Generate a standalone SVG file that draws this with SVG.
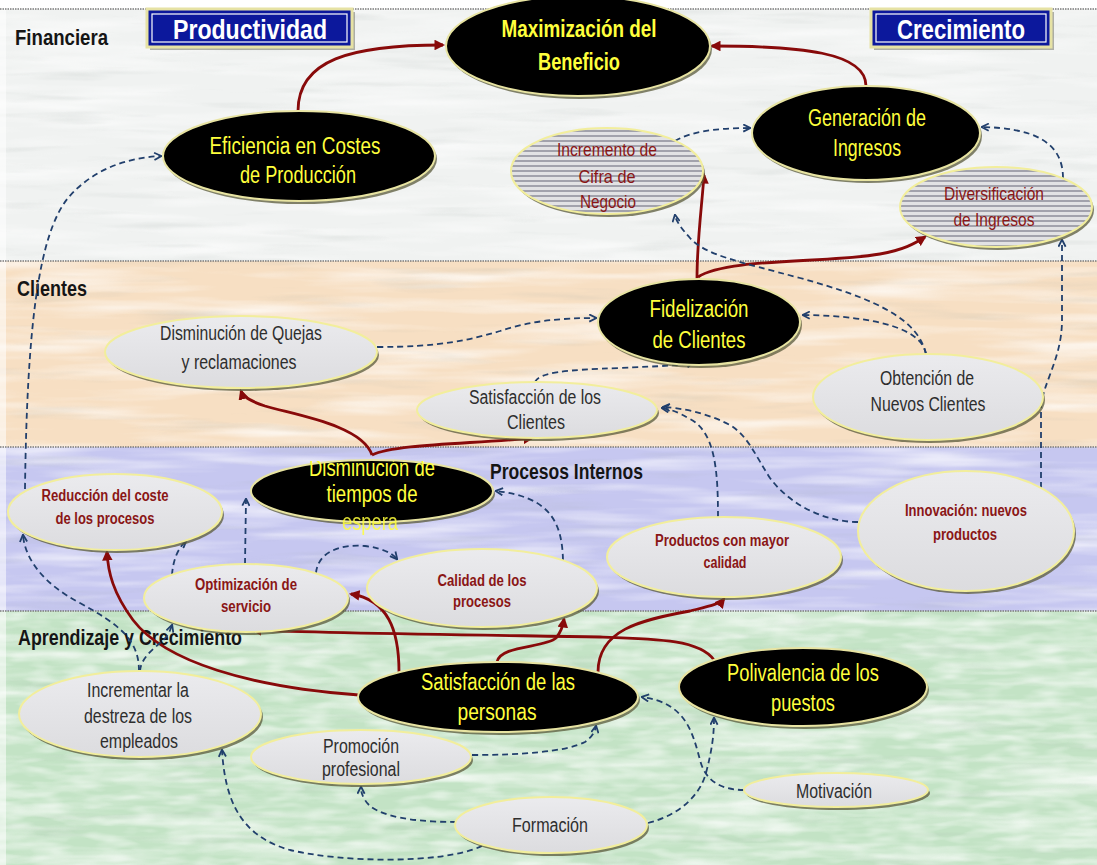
<svg xmlns="http://www.w3.org/2000/svg" width="1097" height="865" viewBox="0 0 1097 865">
  <style>
    .lbl { font-family: "Liberation Sans Narrow", "Liberation Sans", Arial, sans-serif; font-weight: bold; font-size: 22px; fill: #151515; }
    .box { fill: #0c189c; stroke: #e6e2a4; stroke-width: 3; }
    .boxIn { fill: none; stroke: #ffffff; stroke-width: 1.2; }
    .boxTxt { font-family: "Liberation Sans Narrow", "Liberation Sans", Arial, sans-serif; font-weight: bold; font-size: 27px; fill: #ffffff; text-anchor: middle; }
    .shadow { fill: #5a5a3a; opacity: 0.75; }
    .dark { fill: #000000; stroke: #e8e4a2; stroke-width: 2; }
    .light { fill: url(#lightFill); stroke: #f2ee9c; stroke-width: 2; }
    .hatch { fill: url(#stripes); stroke: #f2ee9c; stroke-width: 2; }
    .t { font-family: "Liberation Sans Narrow", "Liberation Sans", Arial, sans-serif; text-anchor: middle; }
    .yel { fill: #ffff3c; font-size: 23px; }
    .yelB { fill: #ffff3c; font-size: 23px; font-weight: bold; }
    .gry { fill: #2e2e2e; font-size: 20px; }
    .red { fill: #8a1616; font-size: 19px; }
    .redB { fill: #8a1616; font-size: 16px; font-weight: bold; }
    .rline { fill: none; stroke: #880a0a; stroke-width: 2.8; marker-end: url(#redHead); }
    .bline { fill: none; stroke: #213f6c; stroke-width: 1.8; stroke-dasharray: 6 4; marker-end: url(#blueHead); }
    .sep { stroke: #7a7a7a; stroke-width: 1.5; stroke-dasharray: 1.5 1; }
  </style>
  <defs>
    <marker id="redHead" viewBox="0 0 10 10" refX="8" refY="5" markerWidth="3.8" markerHeight="3.8" orient="auto">
      <path d="M0,0 L10,5 L0,10 z" fill="#880a0a"/>
    </marker>
    <marker id="blueHead" viewBox="0 0 10 10" refX="8.5" refY="5" markerWidth="5" markerHeight="5" orient="auto">
      <path d="M1,1 L9,5 L1,9" fill="none" stroke="#213f6c" stroke-width="2"/>
    </marker>
    <pattern id="stripes" width="8" height="5" patternUnits="userSpaceOnUse">
      <rect width="8" height="5" fill="#e2e2e4"/>
      <rect y="0" width="8" height="2" fill="#a2a2ac"/>
    </pattern>
    <linearGradient id="lightFill" x1="0" y1="0" x2="0" y2="1">
      <stop offset="0" stop-color="#ebebee"/>
      <stop offset="1" stop-color="#dcdcdf"/>
    </linearGradient>
    <filter id="whiteStreaks" x="0" y="0" width="1" height="1">
      <feTurbulence type="fractalNoise" baseFrequency="0.006 0.07" numOctaves="3" seed="7"/>
      <feColorMatrix type="matrix" values="0 0 0 0 1  0 0 0 0 1  0 0 0 0 1  2.2 0 0 0 -0.95"/>
    </filter>
    <filter id="darkStreaks" x="0" y="0" width="1" height="1">
      <feTurbulence type="fractalNoise" baseFrequency="0.008 0.09" numOctaves="3" seed="21"/>
      <feColorMatrix type="matrix" values="0 0 0 0 0.35  0 0 0 0 0.4  0 0 0 0 0.38  -2.2 0 0 0 0.95"/>
    </filter>
    <filter id="mottle" x="0" y="0" width="1" height="1">
      <feTurbulence type="fractalNoise" baseFrequency="0.03 0.12" numOctaves="2" seed="4"/>
      <feColorMatrix type="matrix" values="0 0 0 0 1  0 0 0 0 1  0 0 0 0 1  2.4 0 0 0 -1.0"/>
    </filter>
    <clipPath id="clipTop">
      <rect x="240" y="461" width="270" height="30"/>
    </clipPath>
  </defs>

  <!-- perspective bands -->
  <g id="bands">
    <rect x="0" y="0" width="1097" height="865" fill="#ffffff"/>
    <rect x="0" y="9" width="1097" height="252" fill="#f0f2f1"/>
    <rect x="0" y="261" width="1097" height="186" fill="#f7dfc3"/>
    <rect x="0" y="447" width="1097" height="164" fill="#c6c7f0"/>
    <rect x="0" y="611" width="1097" height="254" fill="#c3e3c5"/>
    <rect x="0" y="9" width="1097" height="856" filter="url(#whiteStreaks)" opacity="0.7"/>
    <rect x="0" y="9" width="1097" height="856" filter="url(#darkStreaks)" opacity="0.22"/>
    <rect x="0" y="611" width="1097" height="254" filter="url(#mottle)" opacity="0.5"/>
    <rect x="0" y="9" width="6" height="856" fill="#ffffff" opacity="0.55"/>
    <line class="sep" x1="0" y1="9" x2="1097" y2="9"/>
    <line class="sep" x1="0" y1="261" x2="1097" y2="261"/>
    <line class="sep" x1="0" y1="447" x2="1097" y2="447"/>
    <line class="sep" x1="0" y1="611" x2="1097" y2="611"/>
    <text class="lbl" x="15" y="45" textLength="93" lengthAdjust="spacingAndGlyphs">Financiera</text>
    <text class="lbl" x="17" y="296" textLength="70" lengthAdjust="spacingAndGlyphs">Clientes</text>
    <text class="lbl" x="490" y="479" textLength="153" lengthAdjust="spacingAndGlyphs">Procesos Internos</text>
    <text class="lbl" x="18" y="645" textLength="224" lengthAdjust="spacingAndGlyphs">Aprendizaje y Crecimiento</text>
  </g>

  <!-- connectors -->
  <g id="connectors">
    <path class="rline" d="M298,111 C298,60 350,45 443,45"/>
    <path class="rline" d="M866,86 C866,52 800,46 712,46"/>
    <path class="rline" d="M697,279 C697,240 702,205 704,175"/>
    <path class="rline" d="M698,277 C725,258 830,263 880,254 C903,250 914,244 925,237"/>
    <path class="rline" d="M372,455 C362,425 295,415 265,406 C250,401 243,397 241,391"/>
    <path class="rline" d="M372,455 C395,444 470,444 532,438"/>
    <path class="rline" d="M359,695 C250,687 165,662 133,620 C113,593 108,572 107,552"/>
    <path class="rline" d="M399,672 C399,630 388,600 351,594"/>
    <path class="rline" d="M497,662 C500,645 545,648 556,638 C561,632 563,626 564,619"/>
    <path class="rline" d="M598,672 C598,630 640,620 690,611 C710,606 720,604 724,599"/>
    <path class="rline" d="M714,660 C700,640 660,639 600,637 C480,635 320,633 253,630"/>

    <path class="bline" d="M25,489 C27,330 38,235 68,198 C92,170 125,158 161,156"/>
    <path class="bline" d="M675,141 C690,132 715,128 750,128"/>
    <path class="bline" d="M1063,178 C1063,140 1030,128 982,127"/>
    <path class="bline" d="M1041,488 L1041,410 C1041,385 1062,360 1062,320 L1062,240"/>
    <path class="bline" d="M926,354 C922,330 880,316 803,315"/>
    <path class="bline" d="M926,354 C918,320 880,300 800,278 C740,262 705,255 690,238 C681,228 676,221 675,215"/>
    <path class="bline" d="M377,347 C440,347 470,340 500,331 C530,321 560,318 596,318"/>
    <path class="bline" d="M535,382 C540,372 565,370 620,368 C660,366 680,366 693,362"/>
    <path class="bline" d="M718,517 C718,470 715,432 690,419 C678,412 670,409 662,408"/>
    <path class="bline" d="M858,522 C825,522 790,505 770,478 C755,455 748,436 730,425 C705,412 680,408 663,407"/>
    <path class="bline" d="M563,560 C562,522 550,497 496,491"/>
    <path class="bline" d="M316,573 C318,552 340,544 365,546 C382,548 392,553 397,559"/>
    <path class="bline" d="M245,564 L246,499"/>
    <path class="bline" d="M172,575 C173,560 178,548 186,541"/>
    <path class="bline" d="M139,671 C139,640 120,625 80,603 C45,585 25,560 23,535"/>
    <path class="bline" d="M140,671 C141,655 160,645 167,636 C170,631 171,628 172,625"/>
    <path class="bline" d="M456,822 C420,822 375,818 365,800 C362,795 361,792 361,787"/>
    <path class="bline" d="M482,846 C440,865 340,862 290,850 C240,836 225,800 222,750"/>
    <path class="bline" d="M648,823 C680,815 700,795 706,773 C712,750 714,735 714,718"/>
    <path class="bline" d="M472,755 C520,755 565,752 585,742 C592,737 595,732 596,726"/>
    <path class="bline" d="M744,790 C720,790 705,780 700,760 C692,730 685,703 642,697"/>
  </g>

  <!-- financial perspective -->
  <g id="productividad">
    <rect x="150" y="12" width="205" height="38" fill="#6a6a5a" opacity="0.5"/>
    <rect class="box" x="147" y="9" width="205" height="38"/>
    <rect class="boxIn" x="152" y="14" width="195" height="28"/>
    <text class="boxTxt" x="250" y="39" textLength="154" lengthAdjust="spacingAndGlyphs">Productividad</text>
  </g>
  <g id="crecimiento">
    <rect x="874" y="12" width="180" height="38" fill="#6a6a5a" opacity="0.5"/>
    <rect class="box" x="871" y="9" width="180" height="38"/>
    <rect class="boxIn" x="876" y="14" width="170" height="28"/>
    <text class="boxTxt" x="961" y="39" textLength="128" lengthAdjust="spacingAndGlyphs">Crecimiento</text>
  </g>
  <g id="maximizacion">
    <ellipse class="shadow" cx="580" cy="49" rx="132" ry="50"/>
    <ellipse class="dark" cx="578" cy="46" rx="132" ry="50"/>
    <text class="t yelB" x="579" y="37" textLength="155" lengthAdjust="spacingAndGlyphs">Maximización del</text>
    <text class="t yelB" x="579" y="70" textLength="82" lengthAdjust="spacingAndGlyphs">Beneficio</text>
  </g>
  <g id="eficiencia">
    <ellipse class="shadow" cx="301" cy="159" rx="136" ry="45"/>
    <ellipse class="dark" cx="299" cy="156" rx="136" ry="45"/>
    <text class="t yel" x="295" y="154" textLength="171" lengthAdjust="spacingAndGlyphs">Eficiencia en Costes</text>
    <text class="t yel" x="298" y="183" textLength="116" lengthAdjust="spacingAndGlyphs">de Producción</text>
  </g>
  <g id="generacion">
    <ellipse class="shadow" cx="868" cy="136" rx="114" ry="47"/>
    <ellipse class="dark" cx="866" cy="133" rx="114" ry="47"/>
    <text class="t yel" x="867" y="126" textLength="118" lengthAdjust="spacingAndGlyphs">Generación de</text>
    <text class="t yel" x="867" y="156" textLength="68" lengthAdjust="spacingAndGlyphs">Ingresos</text>
  </g>
  <g id="incremento">
    <ellipse class="shadow" cx="609" cy="174" rx="96" ry="43"/>
    <ellipse class="hatch" cx="607" cy="171" rx="96" ry="43"/>
    <text class="t red" x="607" y="156" textLength="100" lengthAdjust="spacingAndGlyphs">Incremento de</text>
    <text class="t red" x="607" y="183" textLength="57" lengthAdjust="spacingAndGlyphs">Cifra de</text>
    <text class="t red" x="608" y="208" textLength="56" lengthAdjust="spacingAndGlyphs">Negocio</text>
  </g>
  <g id="diversificacion">
    <ellipse class="shadow" cx="998" cy="210" rx="96" ry="40"/>
    <ellipse class="hatch" cx="996" cy="207" rx="96" ry="40"/>
    <text class="t red" x="994" y="200" textLength="100" lengthAdjust="spacingAndGlyphs">Diversificación</text>
    <text class="t red" x="994" y="226" textLength="81" lengthAdjust="spacingAndGlyphs">de Ingresos</text>
  </g>

  <!-- customer perspective -->
  <g id="quejas">
    <ellipse class="shadow" cx="243" cy="355" rx="136" ry="36"/>
    <ellipse class="light" cx="241" cy="352" rx="136" ry="36"/>
    <text class="t gry" x="241" y="340" textLength="162" lengthAdjust="spacingAndGlyphs">Disminución de Quejas</text>
    <text class="t gry" x="239" y="369" textLength="115" lengthAdjust="spacingAndGlyphs">y reclamaciones</text>
  </g>
  <g id="fidelizacion">
    <ellipse class="shadow" cx="701" cy="325" rx="101" ry="43"/>
    <ellipse class="dark" cx="699" cy="322" rx="101" ry="43"/>
    <text class="t yel" x="699" y="317" textLength="99" lengthAdjust="spacingAndGlyphs">Fidelización</text>
    <text class="t yel" x="699" y="348" textLength="93" lengthAdjust="spacingAndGlyphs">de Clientes</text>
  </g>
  <g id="satisfaccion-clientes">
    <ellipse class="shadow" cx="539" cy="413" rx="120" ry="28"/>
    <ellipse class="light" cx="537" cy="410" rx="120" ry="28"/>
    <text class="t gry" x="535" y="404" textLength="132" lengthAdjust="spacingAndGlyphs">Satisfacción de los</text>
    <text class="t gry" x="536" y="429" textLength="58" lengthAdjust="spacingAndGlyphs">Clientes</text>
  </g>
  <g id="obtencion">
    <ellipse class="shadow" cx="930" cy="400" rx="115" ry="43"/>
    <ellipse class="light" cx="928" cy="397" rx="115" ry="43"/>
    <text class="t gry" x="927" y="385" textLength="94" lengthAdjust="spacingAndGlyphs">Obtención de</text>
    <text class="t gry" x="928" y="411" textLength="115" lengthAdjust="spacingAndGlyphs">Nuevos Clientes</text>
  </g>

  <!-- internal process perspective -->
  <g id="tiempos">
    <ellipse class="shadow" cx="374" cy="494" rx="121" ry="31"/>
    <ellipse class="dark" cx="372" cy="491" rx="121" ry="31"/>
    <text class="t yel" x="372" y="476" textLength="126" lengthAdjust="spacingAndGlyphs" clip-path="url(#clipTop)">Disminución de</text>
    <text class="t yel" x="372" y="502" textLength="91" lengthAdjust="spacingAndGlyphs">tiempos de</text>
    <text class="t yel" x="370" y="530" textLength="56" lengthAdjust="spacingAndGlyphs" opacity="0.85">espera</text>
  </g>
  <g id="reduccion">
    <ellipse class="shadow" cx="117" cy="515" rx="107" ry="38"/>
    <ellipse class="light" cx="115" cy="512" rx="107" ry="38"/>
    <text class="t redB" x="105" y="501" textLength="127" lengthAdjust="spacingAndGlyphs">Reducción del coste</text>
    <text class="t redB" x="105" y="524" textLength="99" lengthAdjust="spacingAndGlyphs">de los procesos</text>
  </g>
  <g id="optimizacion">
    <ellipse class="shadow" cx="248" cy="601" rx="102" ry="34"/>
    <ellipse class="light" cx="246" cy="598" rx="102" ry="34"/>
    <text class="t redB" x="246" y="590" textLength="102" lengthAdjust="spacingAndGlyphs">Optimización de</text>
    <text class="t redB" x="246" y="612" textLength="50" lengthAdjust="spacingAndGlyphs">servicio</text>
  </g>
  <g id="calidad">
    <ellipse class="shadow" cx="484" cy="591" rx="115" ry="39"/>
    <ellipse class="light" cx="482" cy="588" rx="115" ry="39"/>
    <text class="t redB" x="482" y="586" textLength="89" lengthAdjust="spacingAndGlyphs">Calidad de los</text>
    <text class="t redB" x="482" y="607" textLength="58" lengthAdjust="spacingAndGlyphs">procesos</text>
  </g>
  <g id="productos">
    <ellipse class="shadow" cx="726" cy="560" rx="117" ry="40"/>
    <ellipse class="light" cx="724" cy="557" rx="117" ry="40"/>
    <text class="t redB" x="722" y="546" textLength="134" lengthAdjust="spacingAndGlyphs">Productos con mayor</text>
    <text class="t redB" x="725" y="568" textLength="43" lengthAdjust="spacingAndGlyphs">calidad</text>
  </g>
  <g id="innovacion">
    <ellipse class="shadow" cx="968" cy="534" rx="108" ry="60"/>
    <ellipse class="light" cx="966" cy="531" rx="108" ry="60"/>
    <text class="t redB" x="966" y="516" textLength="122" lengthAdjust="spacingAndGlyphs">Innovación: nuevos</text>
    <text class="t redB" x="965" y="540" textLength="64" lengthAdjust="spacingAndGlyphs">productos</text>
  </g>

  <!-- learning and growth perspective -->
  <g id="destreza">
    <ellipse class="shadow" cx="142" cy="717" rx="121" ry="43"/>
    <ellipse class="light" cx="140" cy="714" rx="121" ry="43"/>
    <text class="t gry" x="138" y="697" textLength="102" lengthAdjust="spacingAndGlyphs">Incrementar la</text>
    <text class="t gry" x="138" y="723" textLength="108" lengthAdjust="spacingAndGlyphs">destreza de los</text>
    <text class="t gry" x="139" y="748" textLength="78" lengthAdjust="spacingAndGlyphs">empleados</text>
  </g>
  <g id="satisfaccion-personas">
    <ellipse class="shadow" cx="500" cy="700" rx="140" ry="35"/>
    <ellipse class="dark" cx="498" cy="697" rx="140" ry="35"/>
    <text class="t yel" x="498" y="690" textLength="154" lengthAdjust="spacingAndGlyphs">Satisfacción de las</text>
    <text class="t yel" x="497" y="720" textLength="79" lengthAdjust="spacingAndGlyphs">personas</text>
  </g>
  <g id="polivalencia">
    <ellipse class="shadow" cx="805" cy="690" rx="124" ry="39"/>
    <ellipse class="dark" cx="803" cy="687" rx="124" ry="39"/>
    <text class="t yel" x="803" y="681" textLength="152" lengthAdjust="spacingAndGlyphs">Polivalencia de los</text>
    <text class="t yel" x="803" y="711" textLength="64" lengthAdjust="spacingAndGlyphs">puestos</text>
  </g>
  <g id="promocion">
    <ellipse class="shadow" cx="363" cy="760" rx="110" ry="27"/>
    <ellipse class="light" cx="361" cy="757" rx="110" ry="27"/>
    <text class="t gry" x="361" y="753" textLength="76" lengthAdjust="spacingAndGlyphs">Promoción</text>
    <text class="t gry" x="361" y="776" textLength="78" lengthAdjust="spacingAndGlyphs">profesional</text>
  </g>
  <g id="formacion">
    <ellipse class="shadow" cx="553" cy="828" rx="96" ry="28"/>
    <ellipse class="light" cx="551" cy="825" rx="96" ry="28"/>
    <text class="t gry" x="550" y="832" textLength="76" lengthAdjust="spacingAndGlyphs">Formación</text>
  </g>
  <g id="motivacion">
    <ellipse class="shadow" cx="838" cy="793" rx="92" ry="17"/>
    <ellipse class="light" cx="836" cy="790" rx="92" ry="17"/>
    <text class="t gry" x="834" y="798" textLength="76" lengthAdjust="spacingAndGlyphs">Motivación</text>
  </g>
</svg>
